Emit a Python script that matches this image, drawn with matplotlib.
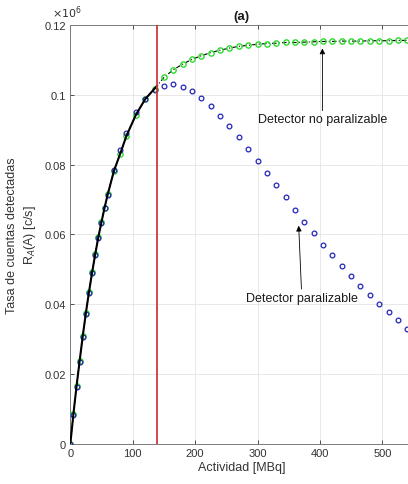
#!/usr/bin/env python3

import numpy as np
import matplotlib
matplotlib.use('Agg')
import matplotlib.pyplot as plt

plt.rcParams['font.family'] = ['Liberation Sans', 'DejaVu Sans']

# Actividad [MBq]
act = [0, 5, 10, 15, 20, 25, 30, 35, 40, 45, 50, 55, 60, 70, 80, 90, 105, 120, 135,
       150, 165, 180, 195, 210, 225, 240, 255, 270, 285, 300, 315, 330, 345, 360,
       375, 390, 405, 420, 435, 450, 465, 480, 495, 510, 525, 540]

# tasa detectada, detector no paralizable (x1e6 c/s)
r_nopar = [0, 0.0087, 0.0166, 0.0239, 0.0310, 0.0376, 0.0436, 0.0492, 0.0544,
           0.0593, 0.0636, 0.0677, 0.0715, 0.0782, 0.0831, 0.0882, 0.0942, 0.0987,
           0.1017, 0.1049, 0.1071, 0.1087, 0.1101, 0.1111, 0.1120, 0.1127, 0.1133,
           0.1138, 0.1141, 0.1144, 0.1146, 0.1147, 0.1149, 0.1149, 0.1150, 0.1151,
           0.1152, 0.1152, 0.1153, 0.1153, 0.1153, 0.1154, 0.1154, 0.1154, 0.1155,
           0.1155]

# tasa detectada, detector paralizable (x1e6 c/s)
r_par = [0, 0.0085, 0.0163, 0.0236, 0.0307, 0.0372, 0.0432, 0.0489, 0.0541,
         0.0590, 0.0633, 0.0675, 0.0714, 0.0785, 0.0842, 0.0891, 0.0949, 0.0987,
         0.1014, 0.1025, 0.1029, 0.1022, 0.1010, 0.0990, 0.0966, 0.0939, 0.0910,
         0.0879, 0.0845, 0.0811, 0.0776, 0.0741, 0.0706, 0.0671, 0.0637, 0.0604,
         0.0571, 0.0541, 0.0510, 0.0482, 0.0452, 0.0427, 0.0400, 0.0377, 0.0355,
         0.0331]

a_limite = 139  # linea vertical roja
xticks = [0, 100, 200, 300, 400, 500]
yticks = [0, 0.02, 0.04, 0.06, 0.08, 0.1, 0.12]
ytick_labels = ['0', '0.02', '0.04', '0.06', '0.08', '0.1', '0.12']

act = np.array(act)
r_nopar = np.array(r_nopar)
r_par = np.array(r_par)

fig = plt.figure(figsize=(4.08, 4.85), dpi=100)
ax = fig.add_axes([0.1723, 0.0819, 0.8412, 0.8652])

# no paralizable: circulos verdes unidos con linea -.
ax.plot(act, r_nopar, color='k', ls=(0, (4, 2, 1, 2)), lw=0.8,
        marker='o', ms=3.8, mfc='none', mec='#2edb2e', mew=1.0, zorder=3)
# paralizable: circulos azules
ax.plot(act, r_par, ls='none', marker='o', ms=3.4, mfc='none', mec='#2424b8',
        mew=0.9, zorder=4)
# tramo lineal solido hasta el limite
tramo = act <= 135
ax.plot(np.append(act[tramo], a_limite), np.append(r_nopar[tramo], 0.1025),
        color='k', lw=1.5, zorder=5)

ax.axvline(a_limite, color='#cc3b3b', lw=1.3, zorder=6)

ax.set_xlim(0, 550)
ax.set_ylim(0, 0.12)
ax.set_xticks(xticks)
ax.set_yticks(yticks)
ax.set_yticklabels(ytick_labels)
ax.tick_params(direction='in', length=3, width=0.6, colors='#333333',
               labelsize=8, top=True, right=True, pad=3)
for s in ax.spines.values():
    s.set_color('#7a7a7a')
    s.set_linewidth(0.7)
ax.grid(True, color='#e4e4e4', lw=0.6)
ax.set_axisbelow(True)

ax.text(-0.053, 1.012, r'$\times10^{6}$', transform=ax.transAxes,
        fontsize=8, color='#333333', ha='left', va='bottom')
ax.set_title('(a)', fontsize=9.5, fontweight='bold', pad=4, color='#1a1a1a')
ax.set_xlabel('Actividad [MBq]', fontsize=9, color='#333333', labelpad=2)
ax.set_ylabel('Tasa de cuentas detectadas\nR$_A$(A) [c/s]', fontsize=9,
              color='#333333', labelpad=5, linespacing=1.3)

arrow = dict(arrowstyle='-|>', color='k', lw=0.6, mutation_scale=8,
             shrinkA=0, shrinkB=0)
ax.annotate('Detector no paralizable', xy=(404, 0.1132), xytext=(404, 0.0946),
            fontsize=9, color='#1a1a1a', ha='center', va='top', arrowprops=arrow)
ax.annotate('Detector paralizable', xy=(366, 0.0625), xytext=(371, 0.0436),
            fontsize=9, color='#1a1a1a', ha='center', va='top', arrowprops=arrow)

plt.savefig('out.png', dpi=100)
